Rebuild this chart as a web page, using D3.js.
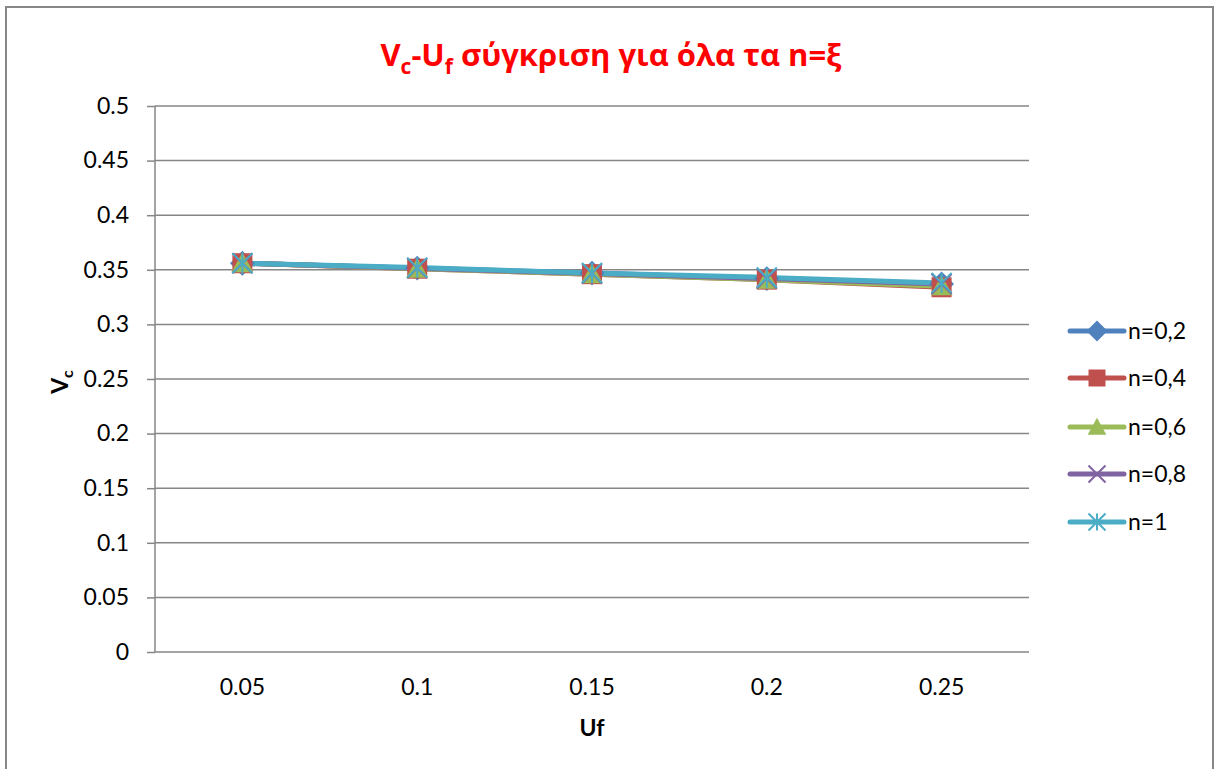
<!DOCTYPE html>
<html><head><meta charset="utf-8">
<script src="https://cdn.jsdelivr.net/npm/d3@7"></script>
<style>body{margin:0;background:#fff}svg{display:block}</style>
</head><body>
<script>
const categories = ["0.05","0.1","0.15","0.2","0.25"];
const seriesNames = ["n=0,2","n=0,4","n=0,6","n=0,8","n=1"];
const s02 = [0.356, 0.3515, 0.347, 0.342, 0.337];
const s04 = [0.356, 0.351, 0.346, 0.341, 0.334];
const s06 = [0.356, 0.351, 0.346, 0.341, 0.335];
const s08 = [0.356, 0.3515, 0.3465, 0.342, 0.337];
const s10 = [0.356, 0.352, 0.347, 0.343, 0.338];
const yTicks = [0,0.05,0.1,0.15,0.2,0.25,0.3,0.35,0.4,0.45,0.5];
const colors = ["#4F81BD","#C0504D","#9BBB59","#8064A2","#4BACC6"];
const markers = ["diamond","square","triangle","x","star"];
const allSeries = [s02,s04,s06,s08,s10];

const W=1215,H=769;
const svg=d3.select("body").append("svg").attr("width",W).attr("height",H);
svg.append("rect").attr("x",6).attr("y",7).attr("width",1207).attr("height",770).attr("fill","#fff").attr("stroke","#878787").attr("stroke-width",2);

const L=155,R=1029,T=106,B=652;
const x=d3.scaleBand().domain(categories).range([L,R]);
const y=d3.scaleLinear().domain([0,0.5]).range([B,T]);
const font="Lato, 'Open Sans', sans-serif";
const fs=23;

// grid
svg.append("g").selectAll("line").data(yTicks.slice(1)).join("line")
 .attr("x1",L).attr("x2",R).attr("y1",d=>y(d)).attr("y2",d=>y(d))
 .attr("stroke","#868686").attr("stroke-width",1.5);

// y axis
const ya=svg.append("g").attr("transform",`translate(${L},0)`)
 .call(d3.axisLeft(y).tickValues(yTicks).tickFormat(d=>String(d)).tickSize(8).tickPadding(18));
ya.select(".domain").attr("stroke","#868686").attr("stroke-width",1.5).attr("d",`M0,${T}V${B}`);
ya.selectAll(".tick line").attr("stroke","#868686").attr("stroke-width",1.5);
ya.selectAll("text").attr("font-family",font).attr("font-size",fs).attr("fill","#000");

// x axis
const xa=svg.append("g").attr("transform",`translate(0,${B})`)
 .call(d3.axisBottom(x).tickSize(0).tickPadding(27));
xa.select(".domain").attr("stroke","#868686").attr("stroke-width",1.5).attr("d",`M${L},0H${R}`);
xa.selectAll("text").attr("font-family",font).attr("font-size",fs).attr("fill","#000");

// axis titles
svg.append("text").attr("x",(L+R)/2).attr("y",736).attr("text-anchor","middle")
 .attr("font-family",font).attr("font-weight","bold").attr("font-size",fs).text("Uf");
const yt=svg.append("text").attr("transform","translate(68,382) rotate(-90)").attr("text-anchor","middle")
 .attr("font-family",font).attr("font-weight","bold").attr("font-size",fs);
yt.append("tspan").text("V");
yt.append("tspan").attr("font-size",16).attr("dy",5).text("c");

// title
const tt=svg.append("text").attr("x",611).attr("y",66).attr("text-anchor","middle")
 .attr("font-family","'Open Sans', 'Noto Sans', sans-serif").attr("font-weight","bold").attr("font-size",31).attr("fill","#FF0000");
tt.append("tspan").text("V");
tt.append("tspan").attr("font-size",21).attr("dy",8).text("c");
tt.append("tspan").attr("dy",-8).text("-U");
tt.append("tspan").attr("font-size",21).attr("dy",8).text("f");
tt.append("tspan").attr("dy",-8).text(" σύγκριση για όλα τα n=ξ");

function marker(g,type,cx,cy,color,s){
  if(type==="diamond"){
    g.append("path").attr("d",`M${cx},${cy-s*0.62}L${cx+s*0.62},${cy}L${cx},${cy+s*0.62}L${cx-s*0.62},${cy}Z`).attr("fill",color);
  } else if(type==="square"){
    g.append("rect").attr("x",cx-s/2).attr("y",cy-s/2).attr("width",s).attr("height",s).attr("fill",color);
  } else if(type==="triangle"){
    g.append("path").attr("d",`M${cx},${cy-s*0.55}L${cx+s*0.55},${cy+s*0.45}L${cx-s*0.55},${cy+s*0.45}Z`).attr("fill",color);
  } else if(type==="x"){
    const h=s*0.5;
    g.append("path").attr("d",`M${cx-h},${cy-h}L${cx+h},${cy+h}M${cx-h},${cy+h}L${cx+h},${cy-h}`).attr("stroke",color).attr("stroke-width",2).attr("fill","none");
  } else if(type==="star"){
    const h=s*0.5;
    g.append("path").attr("d",`M${cx-h},${cy-h}L${cx+h},${cy+h}M${cx-h},${cy+h}L${cx+h},${cy-h}M${cx},${cy-h}V${cy+h}`).attr("stroke",color).attr("stroke-width",2).attr("fill","none");
  }
}

const line=d3.line().x((d,i)=>x(categories[i])+x.bandwidth()/2).y(d=>y(d));
allSeries.forEach((s,k)=>{
  svg.append("path").datum(s).attr("d",line).attr("fill","none").attr("stroke",colors[k]).attr("stroke-width",5).attr("stroke-linejoin","round");
});
allSeries.forEach((s,k)=>{
  const g=svg.append("g");
  s.forEach((v,i)=>marker(g,markers[k],x(categories[i])+x.bandwidth()/2,y(v),colors[k],20));
});

// legend
const ly=[331,378,427,474,522];
seriesNames.forEach((n,k)=>{
  const g=svg.append("g");
  g.append("line").attr("x1",1070).attr("x2",1124).attr("y1",ly[k]).attr("y2",ly[k]).attr("stroke",colors[k]).attr("stroke-width",5).attr("stroke-linecap","round");
  marker(g,markers[k],1097,ly[k],colors[k],17);
  g.append("text").attr("x",1128).attr("y",ly[k]+8).attr("font-family",font).attr("font-size",fs).text(n);
});
</script>
</body></html>
